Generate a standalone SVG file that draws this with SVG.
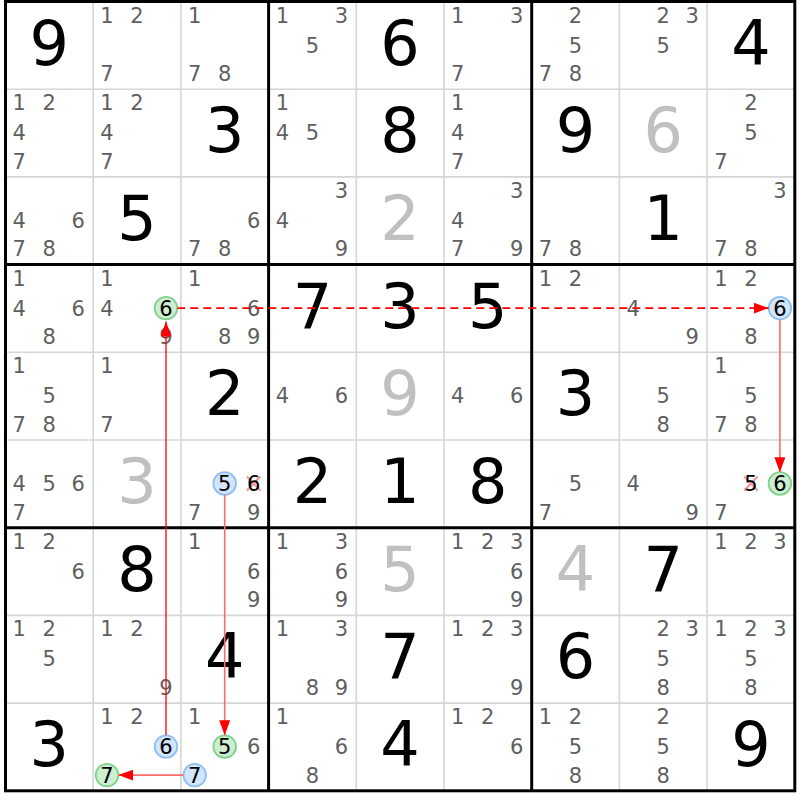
<svg xmlns="http://www.w3.org/2000/svg" width="800" height="800" viewBox="0 0 800 800">
<style>
text{font-family:"DejaVu Sans","Liberation Sans",sans-serif;text-anchor:middle}
.c{font-size:21px;fill:#5f5f5f}
.k{font-size:21px;fill:#000}
.g{font-size:62px;fill:#000}
.s{font-size:62px;fill:#c0c0c0}
.thin{stroke:#d6d6d6;stroke-width:1.6}
.thick{stroke:#000;stroke-width:3}
.blue{fill:#d2e5fb;stroke:#8ec0f2;stroke-width:1.8}
.green{fill:#cdeed1;stroke:#7fd28c;stroke-width:1.8}
.x{stroke:#f09a9a;stroke-width:2.2}
.link{fill:none;stroke:#ff0000;stroke-width:1.3}
.soft{fill:none;stroke:#ff6b6b;stroke-width:1.6}
.dash{fill:none;stroke:#ff0000;stroke-width:1.8;stroke-dasharray:8 5}
</style>
<defs>
<marker id="ah" markerUnits="userSpaceOnUse" markerWidth="15" markerHeight="11" refX="15" refY="5.5" orient="auto">
<path d="M0,0 L15,5.5 L0,11 z" fill="#ff0000"/>
</marker>
</defs>
<rect x="0" y="0" width="800" height="800" fill="#fff"/>
<g id="grid">
<line class="thin" x1="93.2" y1="1.5" x2="93.2" y2="790.8"/>
<line class="thin" x1="180.9" y1="1.5" x2="180.9" y2="790.8"/>
<line class="thin" x1="356.3" y1="1.5" x2="356.3" y2="790.8"/>
<line class="thin" x1="444" y1="1.5" x2="444" y2="790.8"/>
<line class="thin" x1="619.4" y1="1.5" x2="619.4" y2="790.8"/>
<line class="thin" x1="707.1" y1="1.5" x2="707.1" y2="790.8"/>
<line class="thin" x1="5.5" y1="89.2" x2="794.8" y2="89.2"/>
<line class="thin" x1="5.5" y1="176.9" x2="794.8" y2="176.9"/>
<line class="thin" x1="5.5" y1="352.3" x2="794.8" y2="352.3"/>
<line class="thin" x1="5.5" y1="440" x2="794.8" y2="440"/>
<line class="thin" x1="5.5" y1="615.4" x2="794.8" y2="615.4"/>
<line class="thin" x1="5.5" y1="703.1" x2="794.8" y2="703.1"/>
<line class="thick" x1="268.6" y1="1.5" x2="268.6" y2="790.8"/>
<line class="thick" x1="531.7" y1="1.5" x2="531.7" y2="790.8"/>
<line class="thick" x1="5.5" y1="264.6" x2="794.8" y2="264.6"/>
<line class="thick" x1="5.5" y1="527.7" x2="794.8" y2="527.7"/>
<rect class="thick" x="5.5" y="1.5" width="789.3" height="789.3" fill="none"/>
</g>

<g id="r1c1" transform="translate(5.5,1.5)"><text class="g" x="43.8" y="63">9</text></g>
<g id="r1c2" transform="translate(93.2,1.5)"><text class="c" x="13.8" y="21">1</text><text class="c" x="43.8" y="21">2</text><text class="c" x="13.8" y="79.5">7</text></g>
<g id="r1c3" transform="translate(180.9,1.5)"><text class="c" x="13.8" y="21">1</text><text class="c" x="13.8" y="79.5">7</text><text class="c" x="43.8" y="79.5">8</text></g>
<g id="r1c4" transform="translate(268.6,1.5)"><text class="c" x="13.8" y="21">1</text><text class="c" x="72.8" y="21">3</text><text class="c" x="43.8" y="51">5</text></g>
<g id="r1c5" transform="translate(356.3,1.5)"><text class="g" x="43.8" y="63">6</text></g>
<g id="r1c6" transform="translate(444,1.5)"><text class="c" x="13.8" y="21">1</text><text class="c" x="72.8" y="21">3</text><text class="c" x="13.8" y="79.5">7</text></g>
<g id="r1c7" transform="translate(531.7,1.5)"><text class="c" x="43.8" y="21">2</text><text class="c" x="43.8" y="51">5</text><text class="c" x="13.8" y="79.5">7</text><text class="c" x="43.8" y="79.5">8</text></g>
<g id="r1c8" transform="translate(619.4,1.5)"><text class="c" x="43.8" y="21">2</text><text class="c" x="72.8" y="21">3</text><text class="c" x="43.8" y="51">5</text></g>
<g id="r1c9" transform="translate(707.1,1.5)"><text class="g" x="43.8" y="63">4</text></g>

<g id="r2c1" transform="translate(5.5,89.2)"><text class="c" x="13.8" y="21">1</text><text class="c" x="43.8" y="21">2</text><text class="c" x="13.8" y="51">4</text><text class="c" x="13.8" y="79.5">7</text></g>
<g id="r2c2" transform="translate(93.2,89.2)"><text class="c" x="13.8" y="21">1</text><text class="c" x="43.8" y="21">2</text><text class="c" x="13.8" y="51">4</text><text class="c" x="13.8" y="79.5">7</text></g>
<g id="r2c3" transform="translate(180.9,89.2)"><text class="g" x="43.8" y="63">3</text></g>
<g id="r2c4" transform="translate(268.6,89.2)"><text class="c" x="13.8" y="21">1</text><text class="c" x="13.8" y="51">4</text><text class="c" x="43.8" y="51">5</text></g>
<g id="r2c5" transform="translate(356.3,89.2)"><text class="g" x="43.8" y="63">8</text></g>
<g id="r2c6" transform="translate(444,89.2)"><text class="c" x="13.8" y="21">1</text><text class="c" x="13.8" y="51">4</text><text class="c" x="13.8" y="79.5">7</text></g>
<g id="r2c7" transform="translate(531.7,89.2)"><text class="g" x="43.8" y="63">9</text></g>
<g id="r2c8" transform="translate(619.4,89.2)"><text class="s" x="43.8" y="63">6</text></g>
<g id="r2c9" transform="translate(707.1,89.2)"><text class="c" x="43.8" y="21">2</text><text class="c" x="43.8" y="51">5</text><text class="c" x="13.8" y="79.5">7</text></g>

<g id="r3c1" transform="translate(5.5,176.9)"><text class="c" x="13.8" y="51">4</text><text class="c" x="72.8" y="51">6</text><text class="c" x="13.8" y="79.5">7</text><text class="c" x="43.8" y="79.5">8</text></g>
<g id="r3c2" transform="translate(93.2,176.9)"><text class="g" x="43.8" y="63">5</text></g>
<g id="r3c3" transform="translate(180.9,176.9)"><text class="c" x="72.8" y="51">6</text><text class="c" x="13.8" y="79.5">7</text><text class="c" x="43.8" y="79.5">8</text></g>
<g id="r3c4" transform="translate(268.6,176.9)"><text class="c" x="72.8" y="21">3</text><text class="c" x="13.8" y="51">4</text><text class="c" x="72.8" y="79.5">9</text></g>
<g id="r3c5" transform="translate(356.3,176.9)"><text class="s" x="43.8" y="63">2</text></g>
<g id="r3c6" transform="translate(444,176.9)"><text class="c" x="72.8" y="21">3</text><text class="c" x="13.8" y="51">4</text><text class="c" x="13.8" y="79.5">7</text><text class="c" x="72.8" y="79.5">9</text></g>
<g id="r3c7" transform="translate(531.7,176.9)"><text class="c" x="13.8" y="79.5">7</text><text class="c" x="43.8" y="79.5">8</text></g>
<g id="r3c8" transform="translate(619.4,176.9)"><text class="g" x="43.8" y="63">1</text></g>
<g id="r3c9" transform="translate(707.1,176.9)"><text class="c" x="72.8" y="21">3</text><text class="c" x="13.8" y="79.5">7</text><text class="c" x="43.8" y="79.5">8</text></g>

<g id="r4c1" transform="translate(5.5,264.6)"><text class="c" x="13.8" y="21">1</text><text class="c" x="13.8" y="51">4</text><text class="c" x="72.8" y="51">6</text><text class="c" x="43.8" y="79.5">8</text></g>
<g id="r4c2" transform="translate(93.2,264.6)"><text class="c" x="13.8" y="21">1</text><text class="c" x="13.8" y="51">4</text><circle class="green" cx="72.8" cy="43.5" r="11.3"/><text class="k" x="72.8" y="51">6</text><text class="c" x="72.8" y="79.5">9</text></g>
<g id="r4c3" transform="translate(180.9,264.6)"><text class="c" x="13.8" y="21">1</text><text class="c" x="72.8" y="51">6</text><text class="c" x="43.8" y="79.5">8</text><text class="c" x="72.8" y="79.5">9</text></g>
<g id="r4c4" transform="translate(268.6,264.6)"><text class="g" x="43.8" y="63">7</text></g>
<g id="r4c5" transform="translate(356.3,264.6)"><text class="g" x="43.8" y="63">3</text></g>
<g id="r4c6" transform="translate(444,264.6)"><text class="g" x="43.8" y="63">5</text></g>
<g id="r4c7" transform="translate(531.7,264.6)"><text class="c" x="13.8" y="21">1</text><text class="c" x="43.8" y="21">2</text></g>
<g id="r4c8" transform="translate(619.4,264.6)"><text class="c" x="13.8" y="51">4</text><text class="c" x="72.8" y="79.5">9</text></g>
<g id="r4c9" transform="translate(707.1,264.6)"><text class="c" x="13.8" y="21">1</text><text class="c" x="43.8" y="21">2</text><circle class="blue" cx="72.8" cy="43.5" r="11.3"/><text class="k" x="72.8" y="51">6</text><text class="c" x="43.8" y="79.5">8</text></g>

<g id="r5c1" transform="translate(5.5,352.3)"><text class="c" x="13.8" y="21">1</text><text class="c" x="43.8" y="51">5</text><text class="c" x="13.8" y="79.5">7</text><text class="c" x="43.8" y="79.5">8</text></g>
<g id="r5c2" transform="translate(93.2,352.3)"><text class="c" x="13.8" y="21">1</text><text class="c" x="13.8" y="79.5">7</text></g>
<g id="r5c3" transform="translate(180.9,352.3)"><text class="g" x="43.8" y="63">2</text></g>
<g id="r5c4" transform="translate(268.6,352.3)"><text class="c" x="13.8" y="51">4</text><text class="c" x="72.8" y="51">6</text></g>
<g id="r5c5" transform="translate(356.3,352.3)"><text class="s" x="43.8" y="63">9</text></g>
<g id="r5c6" transform="translate(444,352.3)"><text class="c" x="13.8" y="51">4</text><text class="c" x="72.8" y="51">6</text></g>
<g id="r5c7" transform="translate(531.7,352.3)"><text class="g" x="43.8" y="63">3</text></g>
<g id="r5c8" transform="translate(619.4,352.3)"><text class="c" x="43.8" y="51">5</text><text class="c" x="43.8" y="79.5">8</text></g>
<g id="r5c9" transform="translate(707.1,352.3)"><text class="c" x="13.8" y="21">1</text><text class="c" x="43.8" y="51">5</text><text class="c" x="13.8" y="79.5">7</text><text class="c" x="43.8" y="79.5">8</text></g>

<g id="r6c1" transform="translate(5.5,440)"><text class="c" x="13.8" y="51">4</text><text class="c" x="43.8" y="51">5</text><text class="c" x="72.8" y="51">6</text><text class="c" x="13.8" y="79.5">7</text></g>
<g id="r6c2" transform="translate(93.2,440)"><text class="s" x="43.8" y="63">3</text></g>
<g id="r6c3" transform="translate(180.9,440)"><circle class="blue" cx="43.8" cy="43.5" r="11.3"/><text class="k" x="43.8" y="51">5</text><path class="x" d="M66,36.5 L79.6,50.5 M79.6,36.5 L66,50.5"/><text class="k" x="72.8" y="51">6</text><text class="c" x="13.8" y="79.5">7</text><text class="c" x="72.8" y="79.5">9</text></g>
<g id="r6c4" transform="translate(268.6,440)"><text class="g" x="43.8" y="63">2</text></g>
<g id="r6c5" transform="translate(356.3,440)"><text class="g" x="43.8" y="63">1</text></g>
<g id="r6c6" transform="translate(444,440)"><text class="g" x="43.8" y="63">8</text></g>
<g id="r6c7" transform="translate(531.7,440)"><text class="c" x="43.8" y="51">5</text><text class="c" x="13.8" y="79.5">7</text></g>
<g id="r6c8" transform="translate(619.4,440)"><text class="c" x="13.8" y="51">4</text><text class="c" x="72.8" y="79.5">9</text></g>
<g id="r6c9" transform="translate(707.1,440)"><path class="x" d="M37,36.5 L50.6,50.5 M50.6,36.5 L37,50.5"/><text class="k" x="43.8" y="51">5</text><circle class="green" cx="72.8" cy="43.5" r="11.3"/><text class="k" x="72.8" y="51">6</text><text class="c" x="13.8" y="79.5">7</text></g>

<g id="r7c1" transform="translate(5.5,527.7)"><text class="c" x="13.8" y="21">1</text><text class="c" x="43.8" y="21">2</text><text class="c" x="72.8" y="51">6</text></g>
<g id="r7c2" transform="translate(93.2,527.7)"><text class="g" x="43.8" y="63">8</text></g>
<g id="r7c3" transform="translate(180.9,527.7)"><text class="c" x="13.8" y="21">1</text><text class="c" x="72.8" y="51">6</text><text class="c" x="72.8" y="79.5">9</text></g>
<g id="r7c4" transform="translate(268.6,527.7)"><text class="c" x="13.8" y="21">1</text><text class="c" x="72.8" y="21">3</text><text class="c" x="72.8" y="51">6</text><text class="c" x="72.8" y="79.5">9</text></g>
<g id="r7c5" transform="translate(356.3,527.7)"><text class="s" x="43.8" y="63">5</text></g>
<g id="r7c6" transform="translate(444,527.7)"><text class="c" x="13.8" y="21">1</text><text class="c" x="43.8" y="21">2</text><text class="c" x="72.8" y="21">3</text><text class="c" x="72.8" y="51">6</text><text class="c" x="72.8" y="79.5">9</text></g>
<g id="r7c7" transform="translate(531.7,527.7)"><text class="s" x="43.8" y="63">4</text></g>
<g id="r7c8" transform="translate(619.4,527.7)"><text class="g" x="43.8" y="63">7</text></g>
<g id="r7c9" transform="translate(707.1,527.7)"><text class="c" x="13.8" y="21">1</text><text class="c" x="43.8" y="21">2</text><text class="c" x="72.8" y="21">3</text></g>

<g id="r8c1" transform="translate(5.5,615.4)"><text class="c" x="13.8" y="21">1</text><text class="c" x="43.8" y="21">2</text><text class="c" x="43.8" y="51">5</text></g>
<g id="r8c2" transform="translate(93.2,615.4)"><text class="c" x="13.8" y="21">1</text><text class="c" x="43.8" y="21">2</text><text class="c" x="72.8" y="79.5">9</text></g>
<g id="r8c3" transform="translate(180.9,615.4)"><text class="g" x="43.8" y="63">4</text></g>
<g id="r8c4" transform="translate(268.6,615.4)"><text class="c" x="13.8" y="21">1</text><text class="c" x="72.8" y="21">3</text><text class="c" x="43.8" y="79.5">8</text><text class="c" x="72.8" y="79.5">9</text></g>
<g id="r8c5" transform="translate(356.3,615.4)"><text class="g" x="43.8" y="63">7</text></g>
<g id="r8c6" transform="translate(444,615.4)"><text class="c" x="13.8" y="21">1</text><text class="c" x="43.8" y="21">2</text><text class="c" x="72.8" y="21">3</text><text class="c" x="72.8" y="79.5">9</text></g>
<g id="r8c7" transform="translate(531.7,615.4)"><text class="g" x="43.8" y="63">6</text></g>
<g id="r8c8" transform="translate(619.4,615.4)"><text class="c" x="43.8" y="21">2</text><text class="c" x="72.8" y="21">3</text><text class="c" x="43.8" y="51">5</text><text class="c" x="43.8" y="79.5">8</text></g>
<g id="r8c9" transform="translate(707.1,615.4)"><text class="c" x="13.8" y="21">1</text><text class="c" x="43.8" y="21">2</text><text class="c" x="72.8" y="21">3</text><text class="c" x="43.8" y="51">5</text><text class="c" x="43.8" y="79.5">8</text></g>

<g id="r9c1" transform="translate(5.5,703.1)"><text class="g" x="43.8" y="63">3</text></g>
<g id="r9c2" transform="translate(93.2,703.1)"><text class="c" x="13.8" y="21">1</text><text class="c" x="43.8" y="21">2</text><circle class="blue" cx="72.8" cy="43.5" r="11.3"/><text class="k" x="72.8" y="51">6</text><circle class="green" cx="13.8" cy="72" r="11.3"/><text class="k" x="13.8" y="79.5">7</text></g>
<g id="r9c3" transform="translate(180.9,703.1)"><text class="c" x="13.8" y="21">1</text><circle class="green" cx="43.8" cy="43.5" r="11.3"/><text class="k" x="43.8" y="51">5</text><text class="c" x="72.8" y="51">6</text><circle class="blue" cx="13.8" cy="72" r="11.3"/><text class="k" x="13.8" y="79.5">7</text></g>
<g id="r9c4" transform="translate(268.6,703.1)"><text class="c" x="13.8" y="21">1</text><text class="c" x="72.8" y="51">6</text><text class="c" x="43.8" y="79.5">8</text></g>
<g id="r9c5" transform="translate(356.3,703.1)"><text class="g" x="43.8" y="63">4</text></g>
<g id="r9c6" transform="translate(444,703.1)"><text class="c" x="13.8" y="21">1</text><text class="c" x="43.8" y="21">2</text><text class="c" x="72.8" y="51">6</text></g>
<g id="r9c7" transform="translate(531.7,703.1)"><text class="c" x="13.8" y="21">1</text><text class="c" x="43.8" y="21">2</text><text class="c" x="43.8" y="51">5</text><text class="c" x="43.8" y="79.5">8</text></g>
<g id="r9c8" transform="translate(619.4,703.1)"><text class="c" x="43.8" y="21">2</text><text class="c" x="43.8" y="51">5</text><text class="c" x="43.8" y="79.5">8</text></g>
<g id="r9c9" transform="translate(707.1,703.1)"><text class="g" x="43.8" y="63">9</text></g>

<g id="connectors">
<line class="link" x1="166" y1="735.3" x2="166" y2="321.5" marker-end="url(#ah)"/>
<line class="dash" x1="177.3" y1="308.1" x2="768.6" y2="308.1" marker-end="url(#ah)"/>
<line class="soft" x1="779.9" y1="319.4" x2="779.9" y2="472.2" marker-end="url(#ah)"/>
<line class="soft" x1="224.7" y1="494.8" x2="224.7" y2="735.3" marker-end="url(#ah)"/>
<line class="soft" x1="183.4" y1="775.1" x2="118.3" y2="775.1" marker-end="url(#ah)"/>
</g>
</svg>
